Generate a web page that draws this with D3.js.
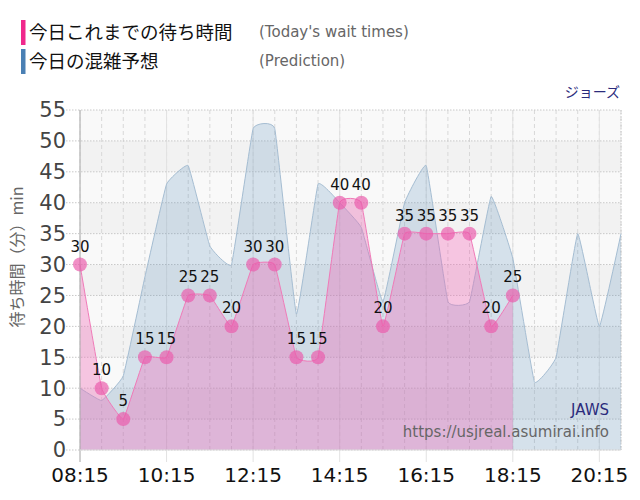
<!DOCTYPE html>
<html>
<head>
<meta charset="utf-8">
<script src="https://cdn.jsdelivr.net/npm/d3@7"></script>
<style>
  body { margin: 0; background: #fff; }
  svg { display: block; font-family: "DejaVu Sans", "Noto Sans CJK JP", sans-serif; }
</style>
</head>
<body>
<div id="chart"></div>
<script>
// time slots every 30 minutes
const times = ["08:15","08:45","09:15","09:45","10:15","10:45","11:15","11:45","12:15","12:45",
  "13:15","13:45","14:15","14:45","15:15","15:45","16:15","16:45","17:15","17:45",
  "18:15","18:45","19:15","19:45","20:15","20:45"];

// today's actual wait times (up to 18:15)
const actual = [30,10,5,15,15,25,25,20,30,30,15,15,40,40,20,35,35,35,35,20,25];

// predicted wait times (whole day)
const predicted = [10,8,12,28,43,46,33,30,52,52,22,43,40,36,24,40,46,24,24,41,31,11,15,35,20,35];

const xTicks = ["08:15","10:15","12:15","14:15","16:15","18:15","20:15"];
const yTicks = [0,5,10,15,20,25,30,35,40,45,50,55];

const parse = d3.timeParse("%H:%M");
const fmt = d3.timeFormat("%H:%M");

const W = 640, H = 500;
const margin = { top: 110, right: 19, bottom: 50, left: 80 };
const width = W - margin.left - margin.right;
const height = H - margin.top - margin.bottom;

const svg = d3.select("#chart").append("svg")
    .attr("width", W)
    .attr("height", H);

// Legend
const legend = [
    { jp: "今日これまでの待ち時間", en: "(Today's wait times)", color: "#f0288c", y: 20 },
    { jp: "今日の混雑予想", en: "(Prediction)", color: "#4a80b4", y: 49 }
];
legend.forEach(l => {
    svg.append("rect").attr("x", 21).attr("y", l.y).attr("width", 4.5).attr("height", 25).attr("fill", l.color);
    svg.append("text").attr("x", 29).attr("y", l.y + 19)
        .style("font-family", "'Noto Sans CJK JP', sans-serif")
        .style("font-size", "18.5px").attr("fill", "#111").text(l.jp);
    svg.append("text").attr("x", 259).attr("y", l.y + 17)
        .style("font-size", "15px").attr("fill", "#666").text(l.en);
});

svg.append("text").attr("x", 620).attr("y", 97).attr("text-anchor", "end")
    .style("font-family", "'Noto Sans CJK JP', sans-serif")
    .style("font-size", "14px").attr("fill", "#2b2b7c").text("ジョーズ");

const g = svg.append("g").attr("transform", `translate(${margin.left},${margin.top})`);

const x = d3.scaleTime()
    .domain([parse(times[0]), parse(times[times.length - 1])])
    .range([0, width]);
const y = d3.scaleLinear().domain([0, 55]).range([height, 0]);

// background bands
const bands = yTicks.slice(0, -1);
g.selectAll(".band").data(bands).enter().append("rect")
    .attr("x", 0).attr("width", width)
    .attr("y", d => y(d + 5)).attr("height", d => y(d) - y(d + 5))
    .attr("fill", d => (d / 5) % 2 === 0 ? "#f9f9f9" : "#f2f2f2");

// vertical grid every 30 min (dashed)
g.selectAll(".vgrid").data(times).enter().append("line")
    .attr("x1", d => x(parse(d))).attr("x2", d => x(parse(d)))
    .attr("y1", 0).attr("y2", height)
    .attr("stroke", "#d8d8d8").attr("stroke-dasharray", "4,3");

// major vertical grid every 2h
g.selectAll(".vmajor").data(xTicks).enter().append("line")
    .attr("x1", d => x(parse(d))).attr("x2", d => x(parse(d)))
    .attr("y1", 0).attr("y2", height + 12)
    .attr("stroke", "#e2e2e2");

// horizontal grid (dotted)
g.selectAll(".hgrid").data(yTicks).enter().append("line")
    .attr("x1", -14).attr("x2", width)
    .attr("y1", d => y(d)).attr("y2", d => y(d))
    .attr("stroke", "#c8c8c8").attr("stroke-dasharray", "1.5,1.5");

// right border
g.append("line").attr("x1", width).attr("x2", width).attr("y1", 0).attr("y2", height)
    .attr("stroke", "#c8c8c8").attr("stroke-dasharray", "1.5,1.5");

const curve = d3.curveCardinal.tension(0.75);

// prediction area
const predData = predicted.map((v, i) => ({ t: parse(times[i]), v }));
g.append("path").datum(predData)
    .attr("d", d3.area().x(d => x(d.t)).y0(height).y1(d => y(d.v)).curve(curve))
    .attr("fill", "rgba(70,130,180,0.2)");
g.append("path").datum(predData)
    .attr("d", d3.line().x(d => x(d.t)).y(d => y(d.v)).curve(curve))
    .attr("fill", "none").attr("stroke", "#a5bdd2").attr("stroke-width", 1);

// actual area
const actData = actual.map((v, i) => ({ t: parse(times[i]), v }));
g.append("path").datum(actData)
    .attr("d", d3.area().x(d => x(d.t)).y0(height).y1(d => y(d.v)).curve(curve))
    .attr("fill", "rgba(240,100,180,0.35)");
g.append("path").datum(actData)
    .attr("d", d3.line().x(d => x(d.t)).y(d => y(d.v)).curve(curve))
    .attr("fill", "none").attr("stroke", "#f07ab8").attr("stroke-width", 1);

// left axis line
g.append("line").attr("x1", 0).attr("x2", 0).attr("y1", 0).attr("y2", height + 12)
    .attr("stroke", "#b0b0b0");
g.append("line").attr("x1", 0).attr("x2", width).attr("y1", height).attr("y2", height)
    .attr("stroke", "#e0e0e0");

// dots
g.selectAll(".dot").data(actData).enter().append("circle")
    .attr("cx", d => x(d.t)).attr("cy", d => y(d.v)).attr("r", 7)
    .attr("fill", "#eb5aab").attr("fill-opacity", 0.68);

g.selectAll(".dlabel").data(actData).enter().append("text")
    .attr("x", d => x(d.t)).attr("y", d => y(d.v) - 13)
    .attr("text-anchor", "middle")
    .style("font-size", "15px").attr("fill", "#111")
    .text(d => d.v);

// y axis labels
g.selectAll(".ylabel").data(yTicks).enter().append("text")
    .attr("x", -14).attr("y", d => y(d)).attr("dy", "0.35em")
    .attr("text-anchor", "end")
    .style("font-size", "21px").attr("fill", "#444")
    .text(d => d);

// x axis labels
g.selectAll(".xlabel").data(xTicks).enter().append("text")
    .attr("x", d => x(parse(d))).attr("y", height + 32)
    .attr("text-anchor", "middle")
    .style("font-size", "20px").attr("fill", "#111")
    .text(d => fmt(parse(d)));

// y axis title
svg.append("text")
    .attr("transform", "translate(23,257) rotate(-90)")
    .attr("text-anchor", "middle")
    .style("font-family", "'Noto Sans CJK JP', sans-serif")
    .style("font-size", "16px").attr("fill", "#666")
    .text("待ち時間（分）min");

// watermark
svg.append("text").attr("x", 609).attr("y", 415).attr("text-anchor", "end")
    .style("font-size", "15px").attr("fill", "#2b2b7c").text("JAWS");
svg.append("text").attr("x", 609).attr("y", 437).attr("text-anchor", "end")
    .style("font-size", "15px").attr("fill", "#666").text("https://usjreal.asumirai.info");
</script>
</body>
</html>
